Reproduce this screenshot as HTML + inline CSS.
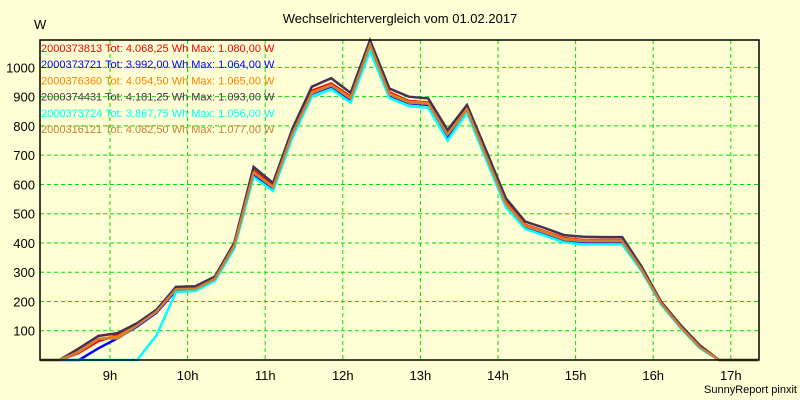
<!DOCTYPE html>
<html><head><meta charset="utf-8"><style>
body{margin:0;background:#ffffd5;}
svg{display:block;font-family:"Liberation Sans",Arial,sans-serif;}
</style></head><body>
<svg id="chart" width="800" height="400" xmlns="http://www.w3.org/2000/svg">
<rect x="0" y="0" width="800" height="400" fill="#ffffd5"/>
<text x="400" y="23" text-anchor="middle" font-size="13" fill="#000">Wechselrichtervergleich vom 01.02.2017</text>
<text x="34" y="29" font-size="13" fill="#000">W</text>
<text x="797" y="393" text-anchor="end" font-size="11" fill="#000">SunnyReport pinxit</text>
<g id="grid"></g>
<g id="series"></g>
<g id="axes"></g>
<g id="legend"></g>
</svg>
<script>
const times = [8.1,8.35,8.6,8.85,9.1,9.35,9.6,9.85,10.1,10.35,10.6,10.85,11.1,11.35,11.6,11.85,12.1,12.35,12.6,12.85,13.1,13.35,13.6,13.85,14.1,14.35,14.6,14.85,15.1,15.35,15.6,15.85,16.1,16.35,16.6,16.85,17.1,17.35];
const s2000373813 = [0,0,25,65,85,122,168,245,246,280,395,648,595,780,920,945,900,1080,915,885,880,775,860,700,540,462,440,417,410,410,410,312,196,115,45,0,0,0];
const s2000373721 = [0,0,0,40,75,115,162,238,240,275,388,635,585,770,910,935,890,1064,905,878,872,765,852,690,530,455,432,408,403,403,403,308,193,112,42,0,0,0];
const s2000376360 = [0,0,30,72,80,120,168,243,245,278,392,642,592,776,915,940,896,1065,910,882,878,772,858,697,536,460,438,414,408,408,408,310,195,114,44,0,0,0];
const s2000374431 = [0,0,40,82,92,126,172,250,252,285,400,660,605,790,934,963,913,1093,928,900,894,786,872,714,553,473,451,427,421,420,420,319,200,120,50,0,0,0];
const s2000373724 = [0,0,0,0,0,0,85,232,236,270,380,625,578,760,900,925,880,1056,895,868,862,750,845,682,522,448,425,402,395,395,395,303,190,110,40,0,0,0];
const s2000316121 = [0,0,28,72,74,118,165,242,243,277,390,640,590,774,912,938,894,1077,908,880,876,770,856,695,534,458,436,412,406,406,406,309,194,113,43,0,0,0];
const seriesNames = ["2000373813","2000373721","2000376360","2000374431","2000373724","2000316121"];
const legendTexts = ["2000373813 Tot: 4.068,25 Wh Max: 1.080,00 W","2000373721 Tot: 3.992,00 Wh Max: 1.064,00 W","2000376360 Tot: 4.054,50 Wh Max: 1.065,00 W","2000374431 Tot: 4.181,25 Wh Max: 1.093,00 W","2000373724 Tot: 3.867,75 Wh Max: 1.056,00 W","2000316121 Tot: 4.082,50 Wh Max: 1.077,00 W"];
const yTicks = [100,200,300,400,500,600,700,800,900,1000];
const xTicks = [9,10,11,12,13,14,15,16,17];
const xTickLabels = ["9h","10h","11h","12h","13h","14h","15h","16h","17h"];

const NS="http://www.w3.org/2000/svg";
const L=40,R=759,T=40,B=360;
const colors=["#ff0000","#0000ff","#ff8000","#4a3050","#00ffff","#cc8033"];
function xs(t){return 110+(t-9)*77.6;}
function ys(v){return B-v*0.2926;}
function mk(tag,attrs,parent){const e=document.createElementNS(NS,tag);for(const k in attrs)e.setAttribute(k,attrs[k]);parent.appendChild(e);return e;}
const grid=document.getElementById('grid'),axes=document.getElementById('axes'),sg=document.getElementById('series'),lg=document.getElementById('legend');
yTicks.forEach(v=>{
  const ln=mk('line',{x1:L,x2:R,y1:ys(v),y2:ys(v),stroke:'#00e000','stroke-dasharray':'4,3','stroke-width':1},grid);
  
  
  const tx=mk('text',{x:35,y:ys(v)+5,'text-anchor':'end','font-size':13,fill:'#000'},axes);
  tx.textContent=v;
  
  
});
xTicks.forEach((t,i)=>{
  const ln=mk('line',{x1:xs(t),x2:xs(t),y1:T,y2:B,stroke:'#00e000','stroke-dasharray':'4,3','stroke-width':1},grid);
  
  
  const tx=mk('text',{x:xs(t),y:380,'text-anchor':'middle','font-size':13,fill:'#000'},axes);
  tx.textContent=xTickLabels[i];
  
  
});
const frame=mk('rect',{x:L,y:T,width:R-L,height:B-T,fill:'none',stroke:'#000','stroke-width':1.5},axes);


const all=[s2000373813,s2000373721,s2000376360,s2000374431,s2000373724,s2000316121];
all.forEach((arr,i)=>{
  const pts=arr.map((v,j)=>xs(times[j]).toFixed(1)+','+ys(v).toFixed(1)).join(' ');
  const pl=mk('polyline',{points:pts,fill:'none',stroke:colors[i],'stroke-width':2.5,'stroke-linejoin':'miter'},sg);
  
  
});
legendTexts.forEach((s,i)=>{
  const tx=mk('text',{x:41,y:52+i*16.2,'font-size':11,fill:colors[i]},lg);
  tx.textContent=s;
  
  
});
</script>
</body></html>
